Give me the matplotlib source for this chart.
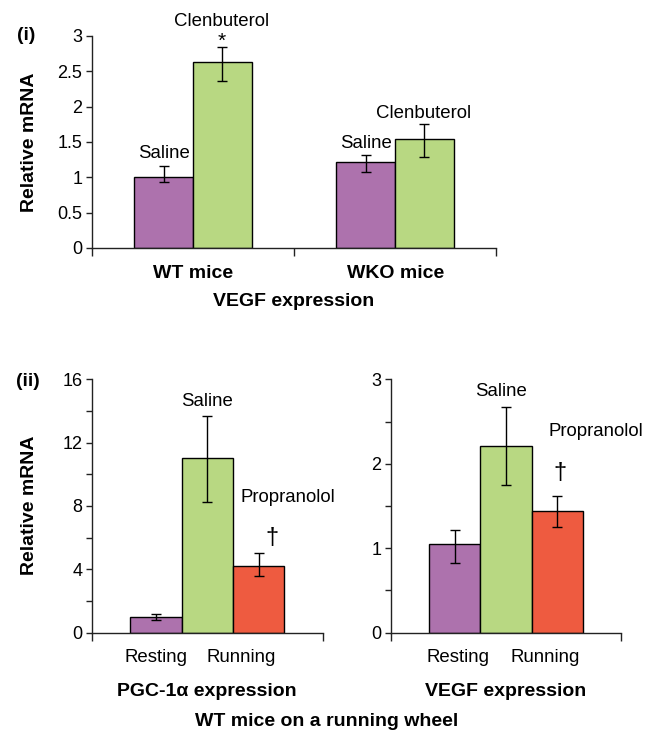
import matplotlib
matplotlib.use("Agg")
import matplotlib.pyplot as plt
import numpy as np

plt.rcParams['font.family'] = ['Liberation Sans', 'DejaVu Sans']

# ---------------- data ----------------
groups_i = ["WT mice", "WKO mice"]
saline_i = [1.0, 1.21]
saline_i_lo = [0.07, 0.13]
saline_i_hi = [0.16, 0.10]
clen_i = [2.63, 1.54]
clen_i_lo = [0.27, 0.25]
clen_i_hi = [0.21, 0.22]

conditions_ii = ["Resting", "Running"]
pgc_vals = [1.0, 11.0, 4.23]
pgc_lo = [0.2, 2.74, 0.65]
pgc_hi = [0.18, 2.7, 0.8]
vegf_vals = [1.05, 2.21, 1.44]
vegf_lo = [0.22, 0.46, 0.19]
vegf_hi = [0.17, 0.46, 0.18]

PURPLE = "#ad72ad"
GREEN = "#b8d882"
RED = "#ee5b40"
colors_ii = [PURPLE, GREEN, RED]

FS = 13.4    # regular labels
FB = 14      # bold labels
FT = 13      # tick labels

W, H = 654, 736
fig = plt.figure(figsize=(W / 100, H / 100), dpi=100)


def ax_px(left, right, top, bottom):
    return fig.add_axes([left / W, 1 - bottom / H, (right - left) / W, (bottom - top) / H])


def txt(x, y, s, **kw):
    kw.setdefault("ha", "center")
    kw.setdefault("va", "center")
    kw.setdefault("fontsize", FS)
    fig.text(x / W, 1 - y / H, s, **kw)


def style(ax):
    for s in ["top", "right"]:
        ax.spines[s].set_visible(False)
    for s in ["left", "bottom"]:
        ax.spines[s].set_color("#222222")
        ax.spines[s].set_linewidth(1.0)
    ax.tick_params(axis="y", direction="out", length=4, width=1, labelsize=FT, color="#222222", pad=3)
    ax.tick_params(axis="x", direction="out", length=6, width=1, color="#222222")
    ax.set_xticklabels([])


err_kw = dict(ecolor="black", elinewidth=1, capsize=3.5, capthick=1)

# ---------------- panel (i) ----------------
ax1 = ax_px(92, 496, 36, 248)
x = np.arange(len(groups_i))
bw = 0.29
ax1.bar(x - bw / 2, saline_i, bw, color=PURPLE, edgecolor="black", linewidth=1,
        yerr=[saline_i_lo, saline_i_hi], error_kw=err_kw, zorder=2)
ax1.bar(x + bw / 2, clen_i, bw, color=GREEN, edgecolor="black", linewidth=1,
        yerr=[clen_i_lo, clen_i_hi], error_kw=err_kw, zorder=2)
ax1.set_xlim(-0.5, 1.5)
ax1.set_ylim(0, 3)
ax1.set_yticks([0, 0.5, 1, 1.5, 2, 2.5, 3])
ax1.set_yticklabels(["0", "0.5", "1", "1.5", "2", "2.5", "3"])
ax1.set_xticks([-0.5, 0.5, 1.5])
style(ax1)

txt(26, 36, "(i)", fontweight="bold", fontsize=FB)
txt(30, 142, "Relative mRNA", fontweight="bold", rotation=90, fontsize=FB)
txt(222, 22, "Clenbuterol")
txt(222, 41, "*", fontsize=15)
txt(164, 153, "Saline")
txt(366, 143, "Saline")
txt(424, 113, "Clenbuterol")
txt(193, 274, groups_i[0], fontweight="bold", fontsize=FB)
txt(396, 274, groups_i[1], fontweight="bold", fontsize=FB)
txt(294, 302, "VEGF expression", fontweight="bold", fontsize=FB)

# ---------------- panel (ii) ----------------
xb = np.arange(3)
ax2 = ax_px(92, 322.7, 379.3, 632.7)
ax2.bar(xb, pgc_vals, 1.0, color=colors_ii, edgecolor="black", linewidth=1,
        yerr=[pgc_lo, pgc_hi], error_kw=err_kw, zorder=2)
ax2.set_xlim(-1.25, 3.25)
ax2.set_ylim(0, 16)
ax2.set_yticks(np.arange(0, 17, 2))
ax2.set_yticklabels(["0", "", "4", "", "8", "", "12", "", "16"])
ax2.set_xticks([-1.25, 3.25])
style(ax2)

ax3 = ax_px(391, 621, 379.3, 632.7)
ax3.bar(xb, vegf_vals, 1.0, color=colors_ii, edgecolor="black", linewidth=1,
        yerr=[vegf_lo, vegf_hi], error_kw=err_kw, zorder=2)
ax3.set_xlim(-1.25, 3.25)
ax3.set_ylim(0, 3)
ax3.set_yticks(np.arange(0, 3.01, 0.5))
ax3.set_yticklabels(["0", "", "1", "", "2", "", "3"])
ax3.set_xticks([-1.25, 3.25])
style(ax3)

txt(28, 381, "(ii)", fontweight="bold", fontsize=FB)
txt(30, 505, "Relative mRNA", fontweight="bold", rotation=90, fontsize=FB)
txt(207, 402, "Saline")
txt(288, 497, "Propranolol")
txt(272, 538, "†", fontsize=17)
txt(156, 658, conditions_ii[0])
txt(241, 658, conditions_ii[1])
txt(207, 692, "PGC-1α expression", fontweight="bold", fontsize=FB)

txt(501, 392, "Saline")
txt(596, 431, "Propranolol")
txt(560, 473, "†", fontsize=17)
txt(458, 658, conditions_ii[0])
txt(545, 658, conditions_ii[1])
txt(506, 692, "VEGF expression", fontweight="bold", fontsize=FB)
txt(327, 721, "WT mice on a running wheel", fontweight="bold", fontsize=FB)

fig.savefig("out.png", dpi=100)
